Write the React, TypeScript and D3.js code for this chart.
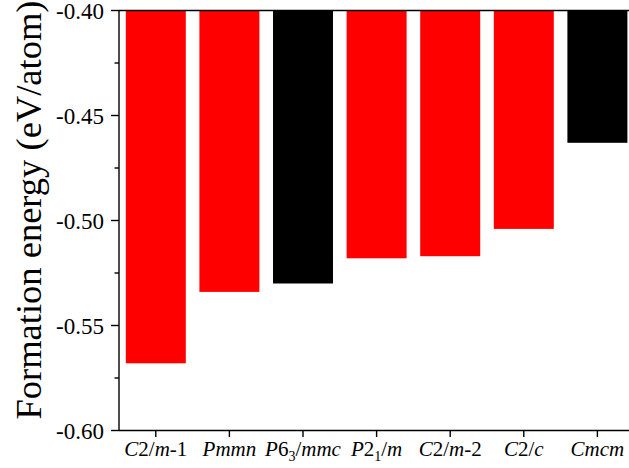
import React from "react";
import * as d3 from "d3";

// ---- data ----
const categories: string[] = ["C2/m-1", "Pmmn", "P63/mmc", "P21/m", "C2/m-2", "C2/c", "Cmcm"];
const energies: number[] = [-0.568, -0.534, -0.530, -0.518, -0.517, -0.504, -0.463];
const barColors: string[] = ["#ff0000", "#ff0000", "#000000", "#ff0000", "#ff0000", "#ff0000", "#000000"];
// label segments: [text, style] with style i = italic, n = normal, s = subscript
const labelParts: [string, string][][] = [
  [["C", "i"], ["2/", "n"], ["m", "i"], ["-1", "n"]],
  [["Pmmn", "i"]],
  [["P", "i"], ["6", "n"], ["3", "s"], ["/", "n"], ["mmc", "i"]],
  [["P", "i"], ["2", "n"], ["1", "s"], ["/", "n"], ["m", "i"]],
  [["C", "i"], ["2/", "n"], ["m", "i"], ["-2", "n"]],
  [["C", "i"], ["2/", "n"], ["c", "i"]],
  [["Cmcm", "i"]],
];
const yMajorTicks: number[] = [-0.6, -0.55, -0.5, -0.45, -0.4];
const yMinorTicks: number[] = [-0.575, -0.525, -0.475, -0.425];
const yDomain: [number, number] = [-0.6, -0.4];
const yTitle = "Formation energy (eV/atom)";

const W = 629;
const H = 468;
const FONT = "'Liberation Serif', 'Times New Roman', 'DejaVu Serif', serif";

export default function App() {
  const left = 119;
  const top = 10.5;
  const bottom = 430.5;
  const x = d3
    .scaleBand<string>()
    .domain(categories)
    .range([left, left + 7 * 73.6])
    .paddingInner(0.185)
    .paddingOuter(0.0925);
  const y = d3.scaleLinear().domain(yDomain).range([bottom, top]);
  const fmt = (v: number) => d3.format(".2f")(v).replace("\u2212", "-");
  const axisW = 1.4;

  return (
    <svg
      width={W}
      height={H}
      style={{ position: "absolute", left: 0, top: 0, background: "#fff" }}
      fontFamily={FONT}
    >
      {/* bars */}
      {categories.map((c, i) => (
        <rect
          key={c}
          x={x(c)}
          width={x.bandwidth()}
          y={y(-0.4)}
          height={y(energies[i]) - y(-0.4)}
          fill={barColors[i]}
        />
      ))}

      {/* axes lines */}
      <line x1={left} x2={W + 10} y1={top} y2={top} stroke="#000" strokeWidth={axisW} />
      <line x1={left} x2={W + 10} y1={bottom} y2={bottom} stroke="#000" strokeWidth={axisW} />
      <line x1={left} x2={left} y1={top} y2={bottom} stroke="#000" strokeWidth={axisW} />

      {/* y ticks */}
      {yMajorTicks.map((t) => (
        <g key={t}>
          <line x1={left - 8} x2={left} y1={y(t)} y2={y(t)} stroke="#000" strokeWidth={axisW} />
          <text
            x={left - 15}
            y={y(t)}
            dy="0.35em"
            textAnchor="end"
            fontSize={23}
            fill="#000"
          >
            {fmt(t)}
          </text>
        </g>
      ))}
      {yMinorTicks.map((t) => (
        <line key={t} x1={left - 4.5} x2={left} y1={y(t)} y2={y(t)} stroke="#000" strokeWidth={axisW} />
      ))}

      {/* x ticks and labels */}
      {categories.map((c, i) => {
        const cx = (x(c) as number) + x.bandwidth() / 2;
        return (
          <g key={c}>
            <line x1={cx} x2={cx} y1={bottom} y2={bottom + 6.5} stroke="#000" strokeWidth={axisW} />
            <text x={cx} y={456} textAnchor="middle" fontSize={21} fill="#000">
              {labelParts[i].map(([s, st], j) =>
                st === "s" ? (
                  <tspan key={j} fontSize={14} dy={5}>
                    {s}
                  </tspan>
                ) : (
                  <tspan
                    key={j}
                    fontStyle={st === "i" ? "italic" : "normal"}
                    dy={j > 0 && labelParts[i][j - 1][1] === "s" ? -5 : 0}
                  >
                    {s}
                  </tspan>
                )
              )}
            </text>
          </g>
        );
      })}

      {/* y title */}
      <text
        transform={`translate(41, 210) rotate(-90)`}
        textAnchor="middle"
        fontSize={36.5}
        fill="#000"
      >
        {yTitle}
      </text>
    </svg>
  );
}
